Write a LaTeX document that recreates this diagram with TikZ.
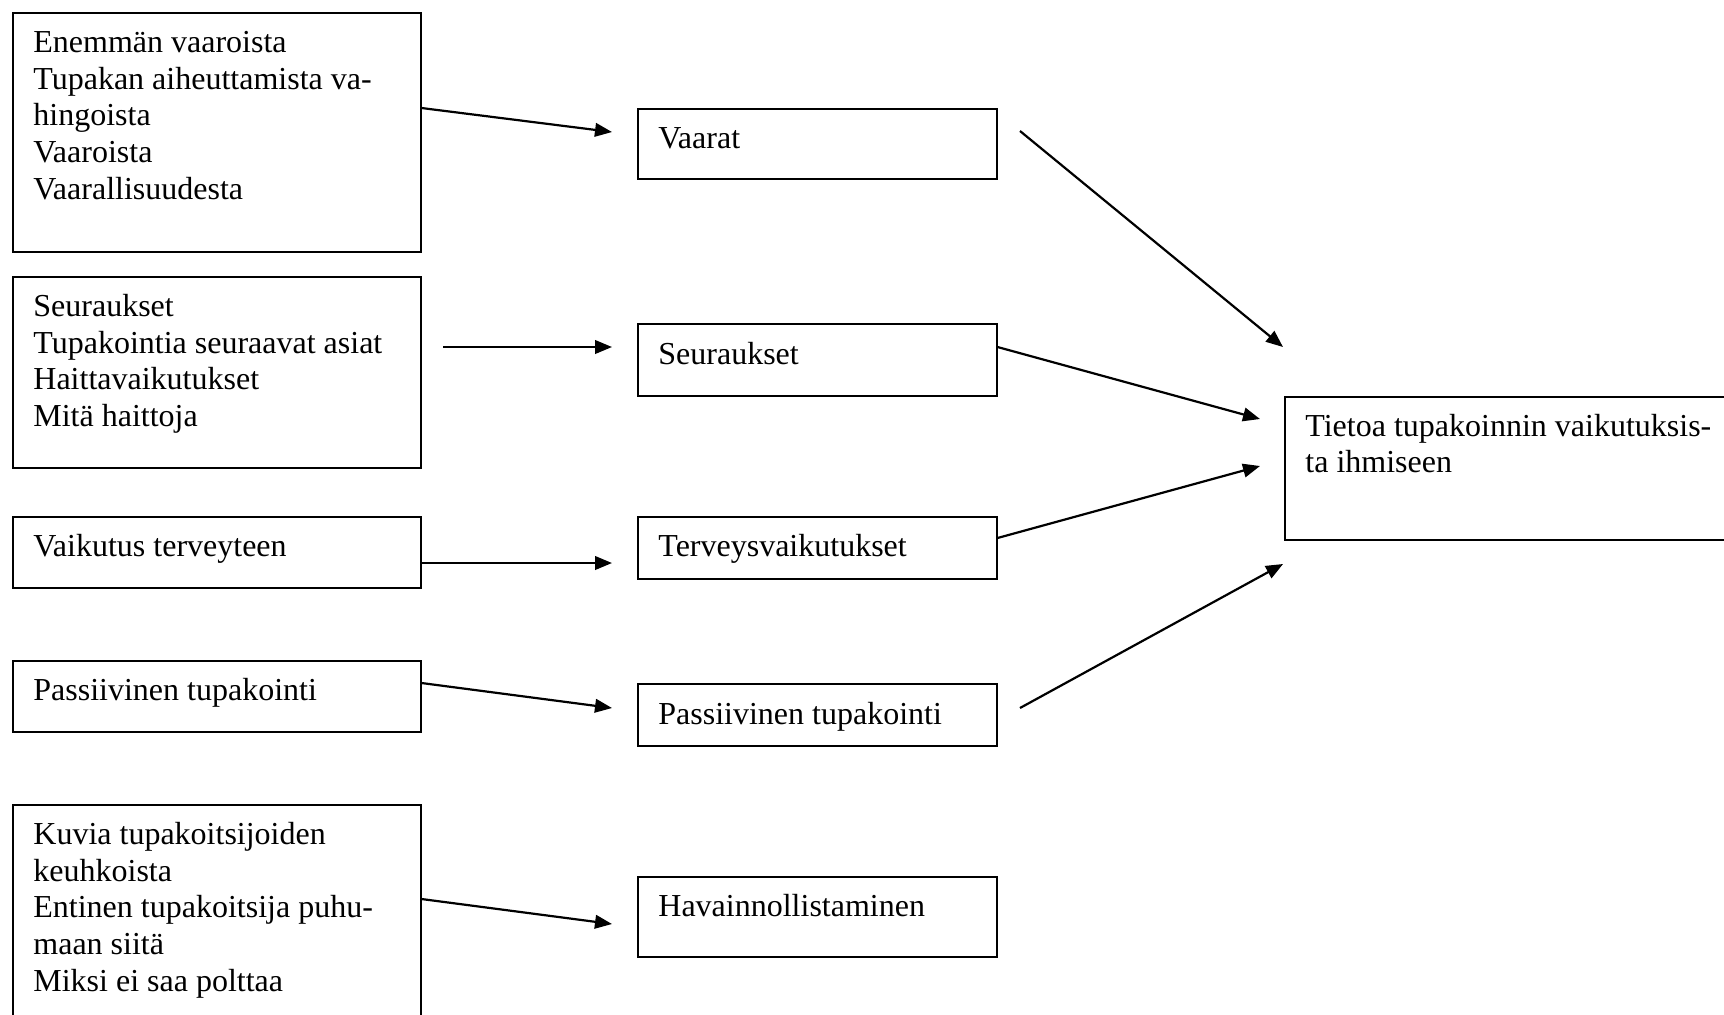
\documentclass[tikz,border=0pt]{standalone}
\usepackage{fontspec}
\setmainfont{Liberation Serif}
\usetikzlibrary{arrows.meta,calc}
\begin{document}
\begin{tikzpicture}[x=0.5pt,y=-0.5pt,
  box/.style={draw, line width=0.75pt, rectangle, inner sep=0pt, anchor=north west},
  boxtext/.style={anchor=north west, inner sep=0pt, align=left,
    font=\fontsize{16pt}{18.4pt}\selectfont},
  link/.style={line width=1.1pt, -{Triangle[length=8.5pt,width=6.8pt]}}
]
\useasboundingbox (0,0) rectangle (1724,1014);
\clip (0,0) rectangle (1724,1014);

% left column: source boxes
\node[box, minimum width=204pt, minimum height=119.5pt] (src1) at (12,12) {};
\node[box, minimum width=204pt, minimum height=95.5pt] (src2) at (12,276) {};
\node[box, minimum width=204pt, minimum height=35.5pt] (src3) at (12,516) {};
\node[box, minimum width=204pt, minimum height=35.5pt] (src4) at (12,660) {};
\node[box, minimum width=204pt, minimum height=120pt] (src5) at (12,804) {};

% middle column: themes
\node[box, minimum width=179.5pt, minimum height=35pt] (mid1) at (637,108) {};
\node[box, minimum width=179.5pt, minimum height=36pt] (mid2) at (637,323) {};
\node[box, minimum width=179.5pt, minimum height=31pt] (mid3) at (637,516) {};
\node[box, minimum width=179.5pt, minimum height=31pt] (mid4) at (637,683) {};
\node[box, minimum width=179.5pt, minimum height=40pt] (mid5) at (637,876) {};

% right: main category
\node[box, minimum width=240pt, minimum height=71.5pt] (main) at (1284,396) {};

% texts
\node[boxtext] (src1t) at ($(src1.north west)+(21,14.2)$) {\strut Enemmän vaaroista\\Tupakan aiheuttamista va-\\hingoista\\Vaaroista\\Vaarallisuudesta};
\node[boxtext] (src2t) at ($(src2.north west)+(21,14.2)$) {\strut Seuraukset\\Tupakointia seuraavat asiat\\Haittavaikutukset\\Mitä haittoja};
\node[boxtext] (src3t) at ($(src3.north west)+(21,14.2)$) {\strut Vaikutus terveyteen};
\node[boxtext] (src4t) at ($(src4.north west)+(21,14.2)$) {\strut Passiivinen tupakointi};
\node[boxtext] (src5t) at ($(src5.north west)+(21,14.2)$) {\strut Kuvia tupakoitsijoiden\\keuhkoista\\Entinen tupakoitsija puhu-\\maan siitä\\Miksi ei saa polttaa};

\node[boxtext] (mid1t) at ($(mid1.north west)+(21,14.2)$) {\strut Vaarat};
\node[boxtext] (mid2t) at ($(mid2.north west)+(21,15.5)$) {\strut Seuraukset};
\node[boxtext] (mid3t) at ($(mid3.north west)+(21,14.2)$) {\strut Terveysvaikutukset};
\node[boxtext] (mid4t) at ($(mid4.north west)+(21,15)$) {\strut Passiivinen tupakointi};
\node[boxtext] (mid5t) at ($(mid5.north west)+(21,14.5)$) {\strut Havainnollistaminen};

\node[boxtext] (maint) at ($(main.north west)+(21,14)$) {\strut Tietoa tupakoinnin vaikutuksis-\\ta ihmiseen};

% free arrow ends
\coordinate (a1e) at (612,132);
\coordinate (a2s) at (443,347);
\coordinate (a2e) at (612,347);
\coordinate (a3e) at (612,563);
\coordinate (a4e) at (612,708);
\coordinate (a5e) at (612,924);
\coordinate (b1s) at (1020,131);
\coordinate (b1e) at (1283,347);
\coordinate (b2e) at (1260,419);
\coordinate (b3e) at (1260,466);
\coordinate (b4s) at (1020,708);
\coordinate (b4e) at (1283,564);

% left to middle
\draw[link] ($(src1.north east)+(0,96)$) -- (a1e);
\draw[link] (a2s) -- (a2e);
\draw[link] ($(src3.north east)+(0,47)$) -- (a3e);
\draw[link] ($(src4.north east)+(0,23)$) -- (a4e);
\draw[link] ($(src5.north east)+(0,95)$) -- (a5e);

% middle to main
\draw[link] (b1s) -- (b1e);
\draw[link] ($(mid2.north east)+(0,24)$) -- (b2e);
\draw[link] ($(mid3.north east)+(0,22)$) -- (b3e);
\draw[link] (b4s) -- (b4e);
\end{tikzpicture}
\end{document}
